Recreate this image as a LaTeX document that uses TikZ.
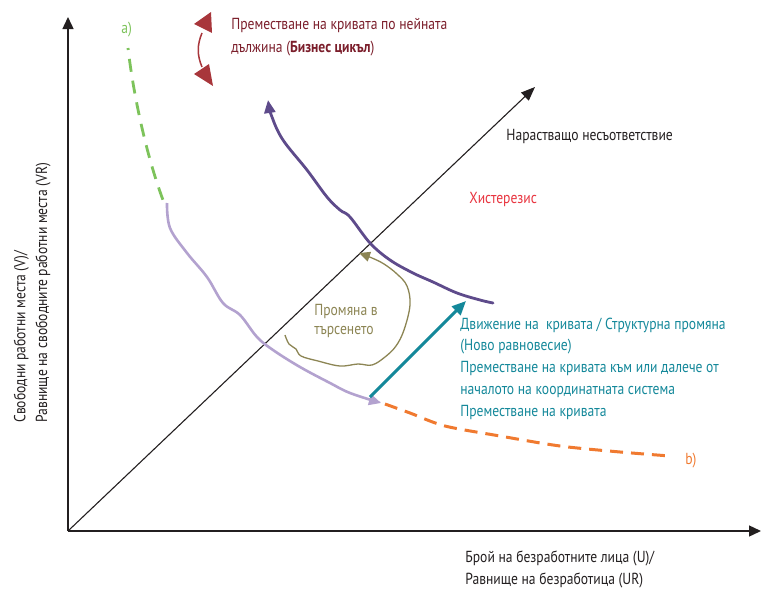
\documentclass[tikz,border=0pt]{standalone}
\usepackage{fontspec}
\setmainfont{PT Sans}[FakeStretch=0.85]
\usetikzlibrary{arrows.meta,positioning}
\definecolor{axisblack}{HTML}{231F20}
\definecolor{lavender}{HTML}{B3A2CF}
\definecolor{darkviolet}{HTML}{5E4B8B}
\definecolor{curvegreen}{HTML}{7DC35B}
\definecolor{curveorange}{HTML}{F07A30}
\definecolor{olive}{HTML}{8C8554}
\definecolor{teal}{HTML}{14889A}
\definecolor{cyclered}{HTML}{A8363B}
\definecolor{cycletext}{HTML}{7B1E2B}
\definecolor{hystred}{HTML}{E8343F}
\tikzset{every picture/.style={line width=0.75pt}}
\tikzset{
  axis/.style={draw=axisblack, line width=1.4pt, -{Triangle[length=12pt,width=11pt]}},
  lbl/.style={font=\fontsize{16}{21.7}\selectfont, inner sep=0pt, align=left, text=axisblack},
}

\begin{document}
\begin{tikzpicture}[x=1pt,y=-1pt]
    \useasboundingbox (0,0) rectangle (761,589);
    % оси
    \coordinate (O) at (68,531);
    \coordinate (ytop) at (68,17);
    \coordinate (xend) at (761,531);
    \coordinate (diag) at (535,87);
    \draw[axis] (O) -- (ytop);
    \draw[axis] (O) -- (xend);
    \draw[draw=axisblack, line width=1.1pt, -{Triangle[length=14pt,width=11pt]}] (O) -- (diag);

    % надписи на осите (base = последния ред)
    \node[lbl, rotate=90, anchor=base west] (ylabel) at (47,423)
        {Свободни работни места (V)/\\Равнище на свободните работни места (VR)};
    \node[lbl, anchor=base west] (xlabel) at (465,584.5)
        {Брой на безработните лица (U)/\\Равнище на безработица (UR)};
    \node[lbl, anchor=base west] (mismatch) at (506,140) {Нарастващо несъответствие};
    \node[lbl, anchor=base west, text=hystred] (hyst) at (469,203) {Хистерезис};

    % крива a) -- b)
    \node[lbl, anchor=base west, text=curvegreen] (a) at (121,33) {a)};
    \node[lbl, anchor=base west, text=curveorange] (b) at (685,464) {b)};
    \draw[curvegreen, line width=2.8pt, dash pattern=on 13pt off 9pt, dash phase=11pt]
        (128,48) .. controls (134,100) and (148,160) .. (163,200);
    \draw[lavender, line width=2.6pt, -{Triangle[length=12pt,width=11pt]}]
        plot[smooth, tension=0.6] coordinates {(167,203) (170,228) (187,253) (207,277) (223,303)
        (240,315) (257,337) (273,350) (300,367) (330,383) (350,393) (381,403)};
    \draw[curveorange, line width=3pt, dash pattern=on 13pt off 8pt]
        plot[smooth] coordinates {(385,404) (410,413) (445,426) (500,436) (560,446) (620,452) (670,456)};

    % изместена крива
    \draw[darkviolet, line width=2.8pt, {Triangle[length=13pt,width=11pt]}-, line cap=round]
        plot[smooth, tension=0.6] coordinates {(268,100) (272,117) (283,140) (307,170) (327,197)
        (340,210) (350,217) (370,243) (390,260) (413,273) (433,282) (457,293) (480,300) (493,303)};

    % промяна в търсенето
    \draw[olive, line width=1.3pt, -{Triangle[length=11pt,width=10pt]}]
        plot[smooth, tension=0.6] coordinates {(285,335) (289,344) (296,349) (301,356) (318,361)
        (340,366) (358,364) (372,365) (385,357) (396,346) (404,330) (410,305) (407,286)
        (397,274) (384,264) (372,258) (359,253)};
    \node[lbl, anchor=base west, text=olive, font=\fontsize{16}{19}\selectfont] (demand) at (314,334)
        {Промяна в\\търсенето};

    % структурна промяна
    \coordinate (shiftstart) at (370,397);
    \coordinate (shiftend) at (466,301);
    \draw[teal, line width=3pt, -{Triangle[length=14pt,width=12pt]}] (shiftstart) -- (shiftend);
    \node[lbl, anchor=base west, text=teal] (structural) at (460,416)
        {Движение на \ кривата / Структурна промяна\\(Ново равновесие)\\Преместване на кривата към или далече от\\началото на координатната система\\Преместване на кривата};

    % бизнес цикъл
    \draw[cyclered, line width=1.5pt] (202,33) .. controls (197,45) and (197,55) .. (202,67);
    \fill[cyclered] (194,24) -- (211,12) -- (212,33) -- cycle;
    \fill[cyclered] (194,74) -- (209,64) -- (213,86) -- cycle;
    \node[lbl, anchor=base west, text=cycletext, font=\fontsize{16}{23}\selectfont] (cycle) at (231,52)
        {Преместване на кривата по нейната\\дължина (\textbf{Бизнес цикъл})};
\end{tikzpicture}
\end{document}
